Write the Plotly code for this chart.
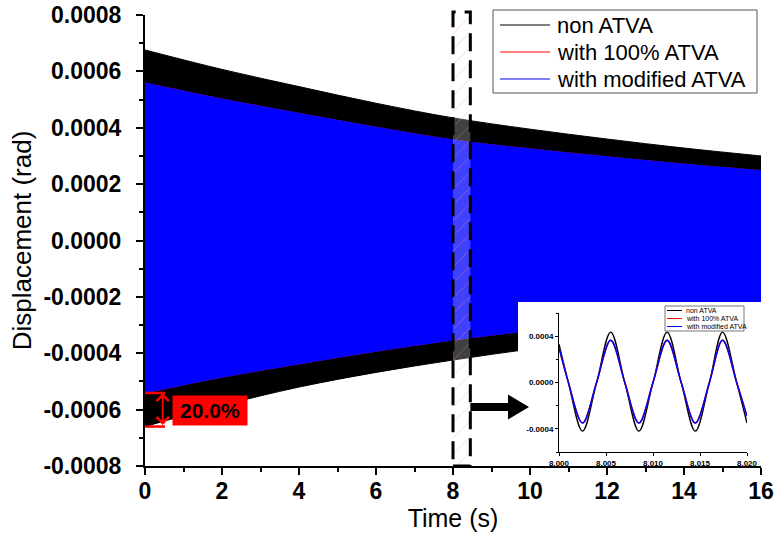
import plotly.graph_objects as go

# ---------------- data ----------------
# envelope of the long-time response, values in 1e-4 rad
t_env = [0, 2, 4, 6, 8, 10, 12, 14, 16]
non_upper = [6.76, 6.07, 5.46, 4.87, 4.35, 3.95, 3.60, 3.28, 3.00]
non_lower = [-6.60, -5.85, -5.20, -4.68, -4.24, -3.85, -3.50, -3.22, -2.97]
full_upper = [5.59, 5.02, 4.51, 4.02, 3.57, 3.25, 2.97, 2.71, 2.48]
full_lower = [-5.41, -4.85, -4.38, -3.93, -3.53, -3.20, -2.92, -2.68, -2.45]
mod_upper = [5.59, 5.02, 4.51, 4.02, 3.57, 3.25, 2.97, 2.71, 2.48]
mod_lower = [-5.41, -4.85, -4.38, -3.93, -3.53, -3.20, -2.92, -2.68, -2.45]

# zoomed window (inset): time offset after 8 s in ms, values in 1e-4 rad
t_in_ms = [0, 1.0, 2.5, 4.0, 5.5, 7.0, 8.5, 10.0, 11.5, 13.0, 14.5, 16.0, 17.4, 18.9, 20.0]
non_in = [3.3, 0, -4.2, 0, 4.35, 0, -4.2, 0, 4.35, 0, -4.2, 0, 4.35, 0, -3.5]
full_in = [3.0, 0, -3.5, 0, 3.65, 0, -3.5, 0, 3.65, 0, -3.5, 0, 3.65, 0, -2.9]
mod_in = [3.0, 0, -3.5, 0, 3.65, 0, -3.5, 0, 3.65, 0, -3.5, 0, 3.65, 0, -2.9]

series_names = ["non ATVA", "with 100% ATVA", "with modified ATVA"]
series_colors = ["#000000", "#ff0000", "#0000ff"]

y_ticks = [-0.0008, -0.0006, -0.0004, -0.0002, 0.0, 0.0002, 0.0004, 0.0006, 0.0008]
y_ticktext = ["-0.0008", "-0.0006", "-0.0004", "-0.0002", "0.0000",
              "0.0002", "0.0004", "0.0006", "0.0008"]
x_ticks = [0, 2, 4, 6, 8, 10, 12, 14, 16]

in_x_ticks = [8.000, 8.005, 8.010, 8.015, 8.020]
in_x_ticktext = ["8.000", "8.005", "8.010", "8.015", "8.020"]
in_y_ticks = [-0.0004, 0.0, 0.0004]
in_y_ticktext = ["-0.0004", "0.0000", "0.0004"]

zoom_window = [8.0, 8.45]
reduction_text = "20.0%"

S = 1e-4
FONT = "Arial, Liberation Sans, sans-serif"

fig = go.Figure()

# envelope bands: lower edge, then upper edge filled to it
for up, lo, col in zip([non_upper, full_upper, mod_upper],
                       [non_lower, full_lower, mod_lower], series_colors):
    fig.add_trace(go.Scatter(x=t_env, y=[v * S for v in lo], mode="lines",
                             line=dict(color=col, width=1, shape="spline", smoothing=1.0),
                             hoverinfo="skip", showlegend=False))
    fig.add_trace(go.Scatter(x=t_env, y=[v * S for v in up], mode="lines",
                             fill="tonexty", fillcolor=col,
                             line=dict(color=col, width=1, shape="spline", smoothing=1.0),
                             hoverinfo="skip", showlegend=False))

# hatched zoom window
fig.add_trace(go.Scatter(
    x=[zoom_window[0], zoom_window[1], zoom_window[1], zoom_window[0], zoom_window[0]],
    y=[y_ticks[0], y_ticks[0], y_ticks[-1], y_ticks[-1], y_ticks[0]],
    mode="none", fill="toself", fillcolor="rgba(255,255,255,0.25)",
    fillpattern=dict(shape="/", fgcolor="rgba(255,140,140,0.8)",
                     bgcolor="rgba(255,255,255,0.25)", size=11, solidity=0.08),
    hoverinfo="skip", showlegend=False))

# white background of inset (invisible axes x2/y2)
fig.add_trace(go.Scatter(x=[0, 1, 1, 0, 0], y=[0, 0, 1, 1, 0], mode="none",
                         fill="toself", fillcolor="white", hoverinfo="skip",
                         showlegend=False, xaxis="x2", yaxis="y2"))

# inset curves
t_in = [8 + v / 1000.0 for v in t_in_ms]
for vals, col, name in zip([non_in, full_in, mod_in], series_colors, series_names):
    fig.add_trace(go.Scatter(x=t_in, y=[v * S for v in vals], mode="lines", name=name,
                             line=dict(color=col, width=1.4, shape="spline", smoothing=1.0),
                             showlegend=False, hoverinfo="skip", xaxis="x3", yaxis="y3"))

# ---------------- layout ----------------
L, R, T, B = 145, 13, 15, 71
W, H = 774, 537
PW, PH = W - L - R, H - T - B


def px(xp):
    return (xp - L) / PW


def py(yp):
    return (H - B - yp) / PH


fig.update_layout(
    width=W, height=H,
    margin=dict(l=L, r=R, t=T, b=B, autoexpand=False),
    paper_bgcolor="white", plot_bgcolor="white",
    font=dict(family=FONT, color="black"),
    showlegend=False,
    xaxis=dict(range=[0, 16], tickmode="array", tickvals=x_ticks, automargin=False,
               ticks="outside", ticklen=7, tickwidth=2, tickcolor="black",
               ticklabelstandoff=-4,
               minor=dict(tickmode="linear", tick0=0, dtick=1, ticks="outside",
                          ticklen=4, tickwidth=2, tickcolor="black", showgrid=False),
               showline=True, linewidth=2, linecolor="black",
               showgrid=False, zeroline=False,
               tickfont=dict(size=23, family=FONT, weight="bold"),
               title=dict(text="Time (s)", font=dict(size=25, family=FONT), standoff=6)),
    yaxis=dict(range=[-0.0008, 0.0008], tickmode="array", tickvals=y_ticks,
               ticktext=y_ticktext, automargin=False,
               ticks="outside", ticklen=7, tickwidth=2, tickcolor="black",
               ticklabelstandoff=10,
               minor=dict(tickmode="linear", tick0=0, dtick=0.0001, ticks="outside",
                          ticklen=4, tickwidth=2, tickcolor="black", showgrid=False),
               showline=True, linewidth=2, linecolor="black",
               showgrid=False, zeroline=False,
               tickfont=dict(size=23, family=FONT, weight="bold"),
               title=dict(text="Displacement (rad)", font=dict(size=26, family=FONT),
                          standoff=4)),
    xaxis2=dict(domain=[px(518), 1.0], range=[0, 1], visible=False, anchor="y2"),
    yaxis2=dict(domain=[py(463), py(302)], range=[0, 1], visible=False, anchor="x2"),
    xaxis3=dict(domain=[px(559), px(747)], range=[8.0, 8.02], anchor="y3",
                tickmode="array", tickvals=in_x_ticks, ticktext=in_x_ticktext,
                ticks="outside", ticklen=3, tickwidth=1, tickcolor="black",
                showline=True, linewidth=1, linecolor="black", showgrid=False,
                zeroline=False, tickfont=dict(size=8, family=FONT, weight="bold")),
    yaxis3=dict(domain=[py(452), py(313)], range=[-0.0006, 0.0006], anchor="x3",
                tickmode="array", tickvals=in_y_ticks, ticktext=in_y_ticktext,
                ticks="outside", ticklen=3, tickwidth=1, tickcolor="black",
                minor=dict(tickmode="linear", tick0=0, dtick=0.0002, ticks="outside",
                           ticklen=2, tickwidth=1, tickcolor="black", showgrid=False),
                showline=True, linewidth=1, linecolor="black", showgrid=False,
                zeroline=False, tickfont=dict(size=8, family=FONT, weight="bold")),
)

shapes = []
annotations = []
# dashed zoom-window border
shapes.append(dict(type="rect", xref="x", yref="paper", x0=zoom_window[0], x1=zoom_window[1],
                   y0=0, y1=py(12), line=dict(color="black", width=3, dash="18px,9px"),
                   fillcolor="rgba(0,0,0,0)", layer="above"))
# black arrow to inset
u = PH / 1.6e-3
ay = -(407 - (T + PH / 2)) / u
h1 = 4 / u
h2 = 12.5 / u
xs0, xs1, xh = zoom_window[1], (508 - L) / PW * 16, (529 - L) / PW * 16
path = (f"M {xs0},{ay - h1} L {xs1},{ay - h1} L {xs1},{ay - h2} L {xh},{ay} "
        f"L {xs1},{ay + h2} L {xs1},{ay + h1} L {xs0},{ay + h1} Z")
shapes.append(dict(type="path", xref="x", yref="y", path=path, fillcolor="black",
                   line=dict(color="black", width=0), layer="above"))
# red bracket lines at t=0
for v in (mod_lower[0], non_lower[0]):
    shapes.append(dict(type="line", xref="x", yref="y", x0=0, x1=0.52, y0=v * S, y1=v * S,
                       line=dict(color="#ff0000", width=2.5), layer="above"))

# main legend (box, line samples, labels)
shapes.append(dict(type="rect", xref="paper", yref="paper", x0=px(493), x1=px(757),
                   y0=py(93), y1=py(10), fillcolor="white",
                   line=dict(color="#555555", width=1), layer="above"))
rows_main = [25, 52, 79]
for yy, col, name in zip(rows_main, series_colors, series_names):
    shapes.append(dict(type="line", xref="paper", yref="paper", x0=px(500), x1=px(550),
                       y0=py(yy), y1=py(yy), line=dict(color=col, width=1), layer="above"))
    annotations.append(dict(x=px(555), y=py(yy), xref="paper", yref="paper", text=name,
                            showarrow=False, xanchor="left", yanchor="middle",
                            font=dict(size=22, family=FONT, color="black")))

# inset legend
shapes.append(dict(type="rect", xref="paper", yref="paper", x0=px(665), x1=px(744),
                   y0=py(331), y1=py(306), fillcolor="white",
                   line=dict(color="#555555", width=0.8), layer="above"))
rows = [310.5, 318.5, 326.5]
for yy, col, name in zip(rows, series_colors, series_names):
    shapes.append(dict(type="line", xref="paper", yref="paper", x0=px(667), x1=px(682),
                       y0=py(yy), y1=py(yy), line=dict(color=col, width=1), layer="above"))
    annotations.append(dict(x=px(684), y=py(yy), xref="paper", yref="paper", text=name,
                            showarrow=False, xanchor="left", yanchor="middle",
                            font=dict(size=7, family=FONT, color="black")))
fig.update_layout(shapes=shapes)

# double-headed red arrow
annotations.append(dict(x=0.46, y=mod_lower[0] * S, ax=0.46, ay=non_lower[0] * S,
                        xref="x", yref="y", axref="x", ayref="y", text="",
                        showarrow=True, arrowhead=4, startarrowhead=4, arrowside="end+start",
                        arrowsize=1.2, startarrowsize=1.2, arrowwidth=2, arrowcolor="#ff0000",
                        standoff=0, startstandoff=0))
# 20.0 % label
annotations.append(dict(x=1.7, y=-6.03e-4, xref="x", yref="y", text="<b>" + reduction_text + "</b>",
                        showarrow=False, bgcolor="#ff0000", width=70, height=25, borderpad=2,
                        font=dict(size=21, family=FONT, color="black")))
fig.update_layout(annotations=annotations)

fig.write_html("out.html")
